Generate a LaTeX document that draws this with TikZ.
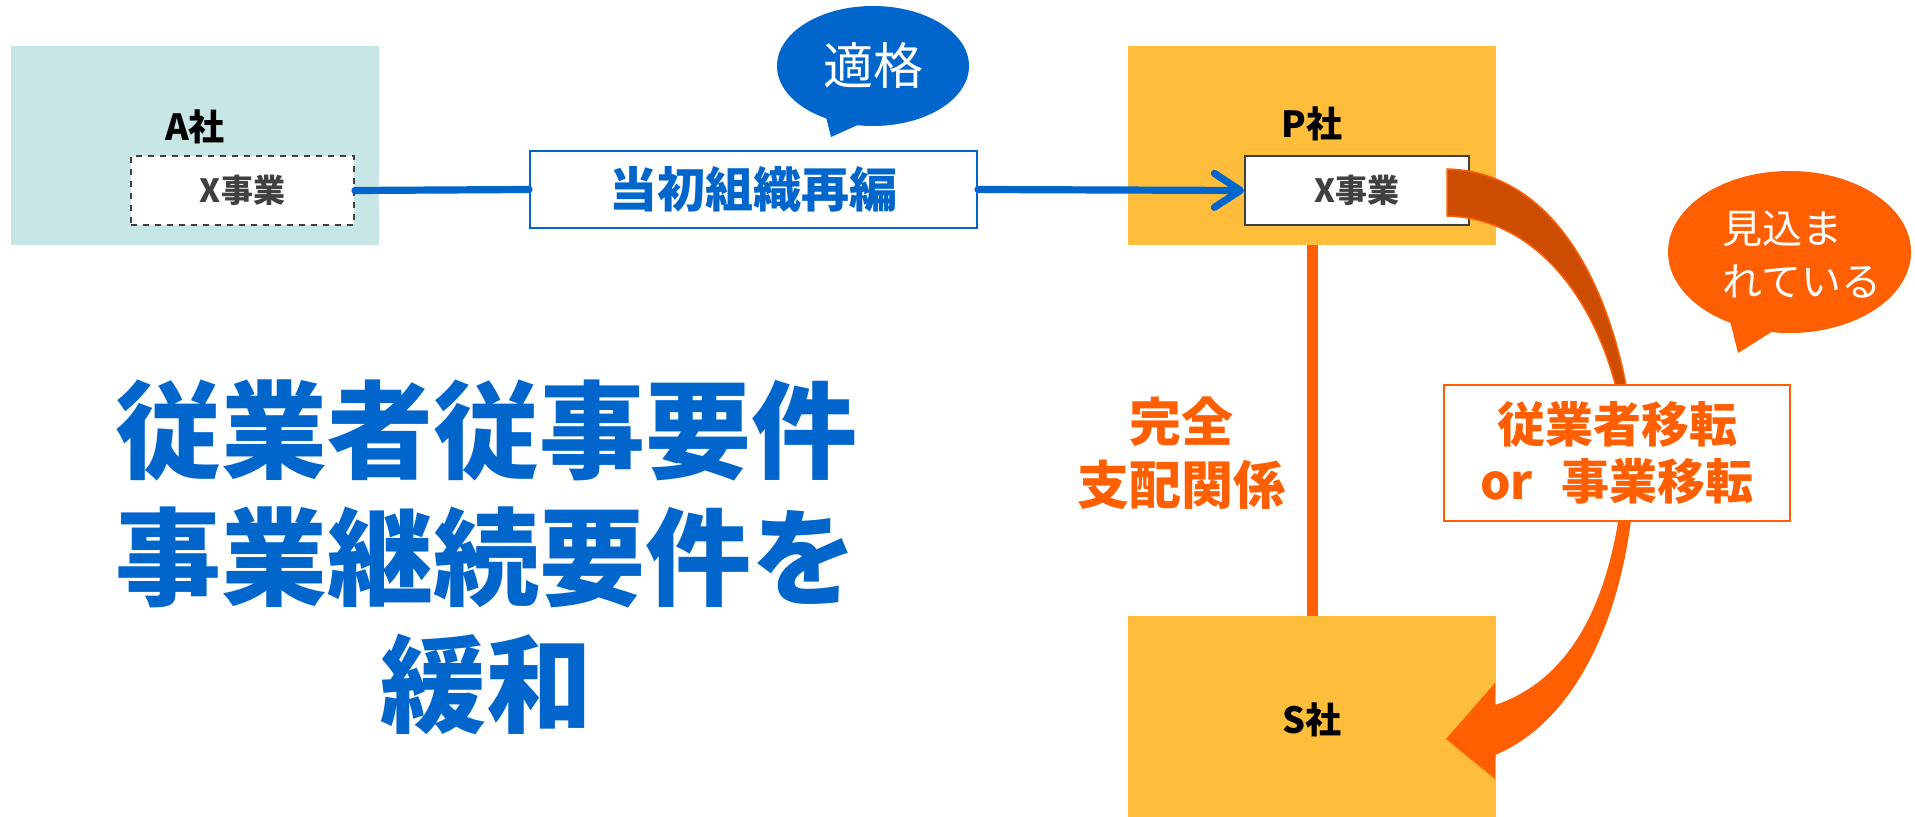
\documentclass[tikz,border=0pt]{standalone}
\usepackage{fontspec}
\setmainfont{Noto Sans CJK JP}
\usetikzlibrary{shapes.geometric,arrows.meta}
\definecolor{myblue}{HTML}{0066CC}
\definecolor{myorange}{HTML}{FF5F00}
\definecolor{mydark}{HTML}{CC4C00}
\definecolor{mygold}{HTML}{FFBD3C}
\definecolor{myteal}{HTML}{C8E6E5}
\definecolor{mygray}{HTML}{404040}
\newcommand{\myfs}[2]{\fontsize{#1}{#2}\selectfont}
\begin{document}
\begin{tikzpicture}[x=0.5pt,y=-0.5pt,
  company/.style={rectangle, inner sep=0pt, minimum width=184pt, minimum height=99.5pt},
  clabel/.style={font=\bfseries\myfs{18}{21}, text=black},
  bizbox/.style={rectangle, fill=white, inner sep=0pt, minimum width=112pt, minimum height=34.5pt, text=mygray, font=\bfseries\myfs{16}{19}},
  blueline/.style={draw=myblue, line width=3.6pt, line cap=round},
  bubble/.style={ellipse, inner sep=0pt},
]
\useasboundingbox (0,0) rectangle (1915,817);

% companies
\node[company, fill=myteal] (A) at (195,145.5) {};
\node[company, fill=mygold] (P) at (1312,145.5) {};
\node[company, fill=mygold, minimum height=100.5pt] (S) at (1312,716.5) {};
\node[clabel] (Alab) at (195,127) {A社};
\node[clabel] (Plab) at (1312,124) {P社};
\node[clabel] (Slab) at (1312,720) {S社};

% X businesses
\node[bizbox, draw=mygray, dashed, line width=1pt, minimum width=111.5pt] (AX) at (242.5,190.5) {X事業};
\node[bizbox, draw=mygray, line width=1pt] (PX) at (1357,190.5) {X事業};

% reorganisation
\node[rectangle, draw=myblue, line width=1pt, fill=white, inner sep=0pt, minimum width=223.5pt, minimum height=38.5pt, text=myblue, font=\bfseries\myfs{24}{28}] (reorg) at (753.5,189.5) {当初組織再編};
\draw[blueline] (AX.east) -- (reorg.west);
\draw[blueline, -{Straight Barb[length=13pt,width=17pt,round]}] (reorg.east) -- (PX.west);

% bubble 適格
\node[bubble, fill=myblue, minimum width=96pt, minimum height=60pt, text=white, font=\myfs{25}{29}] (b1) at (873,66) {適格};
\fill[myblue] (826,117) -- (831,137) -- (860,124) -- cycle;

% full control line
\draw[myorange, line width=5.5pt] (P.south) -- (S.north);
\node[text=myorange, font=\bfseries\myfs{26}{31.5}, align=center] (rel) at (1181,453) {完全\\支配関係};

% curved arrow
\filldraw[fill=mydark, draw=myorange, line width=0.75pt] (1447,169) .. controls (1560,172) and (1620,300) .. (1634,440) -- (1626,440) .. controls (1610,310) and (1540,218) .. (1447,216) -- cycle;
\fill[myorange] (1636,440) .. controls (1636,600) and (1580,720) .. (1495,755) -- (1495,779) -- (1446,739) -- (1495,683) -- (1495,705) .. controls (1570,680) and (1620,600) .. (1626,440) -- cycle;

% transfer box
\node[rectangle, draw=myorange, line width=1pt, fill=white, inner sep=0pt, minimum width=173pt, minimum height=68pt, text=myorange, font=\bfseries\myfs{24}{28.5}, align=center] (move) at (1617,453) {従業者移転\\or\hspace{0.6em}事業移転};

% bubble 見込まれている
\node[bubble, fill=myorange, minimum width=121.5pt, minimum height=81pt] (b2) at (1789.5,252) {};
\fill[myorange] (1730,321) -- (1738,353) -- (1773,331) -- cycle;
\node[anchor=west, align=left, text=white, font=\myfs{20}{26.5}, inner sep=0pt] (b2t) at (1722,255) {見込ま\\れている};

% main message
\node[text=myblue, font=\bfseries\myfs{53}{63.5}, align=center] (msg) at (486,557) {従業者従事要件\\事業継続要件を\\緩和};
\end{tikzpicture}
\end{document}
